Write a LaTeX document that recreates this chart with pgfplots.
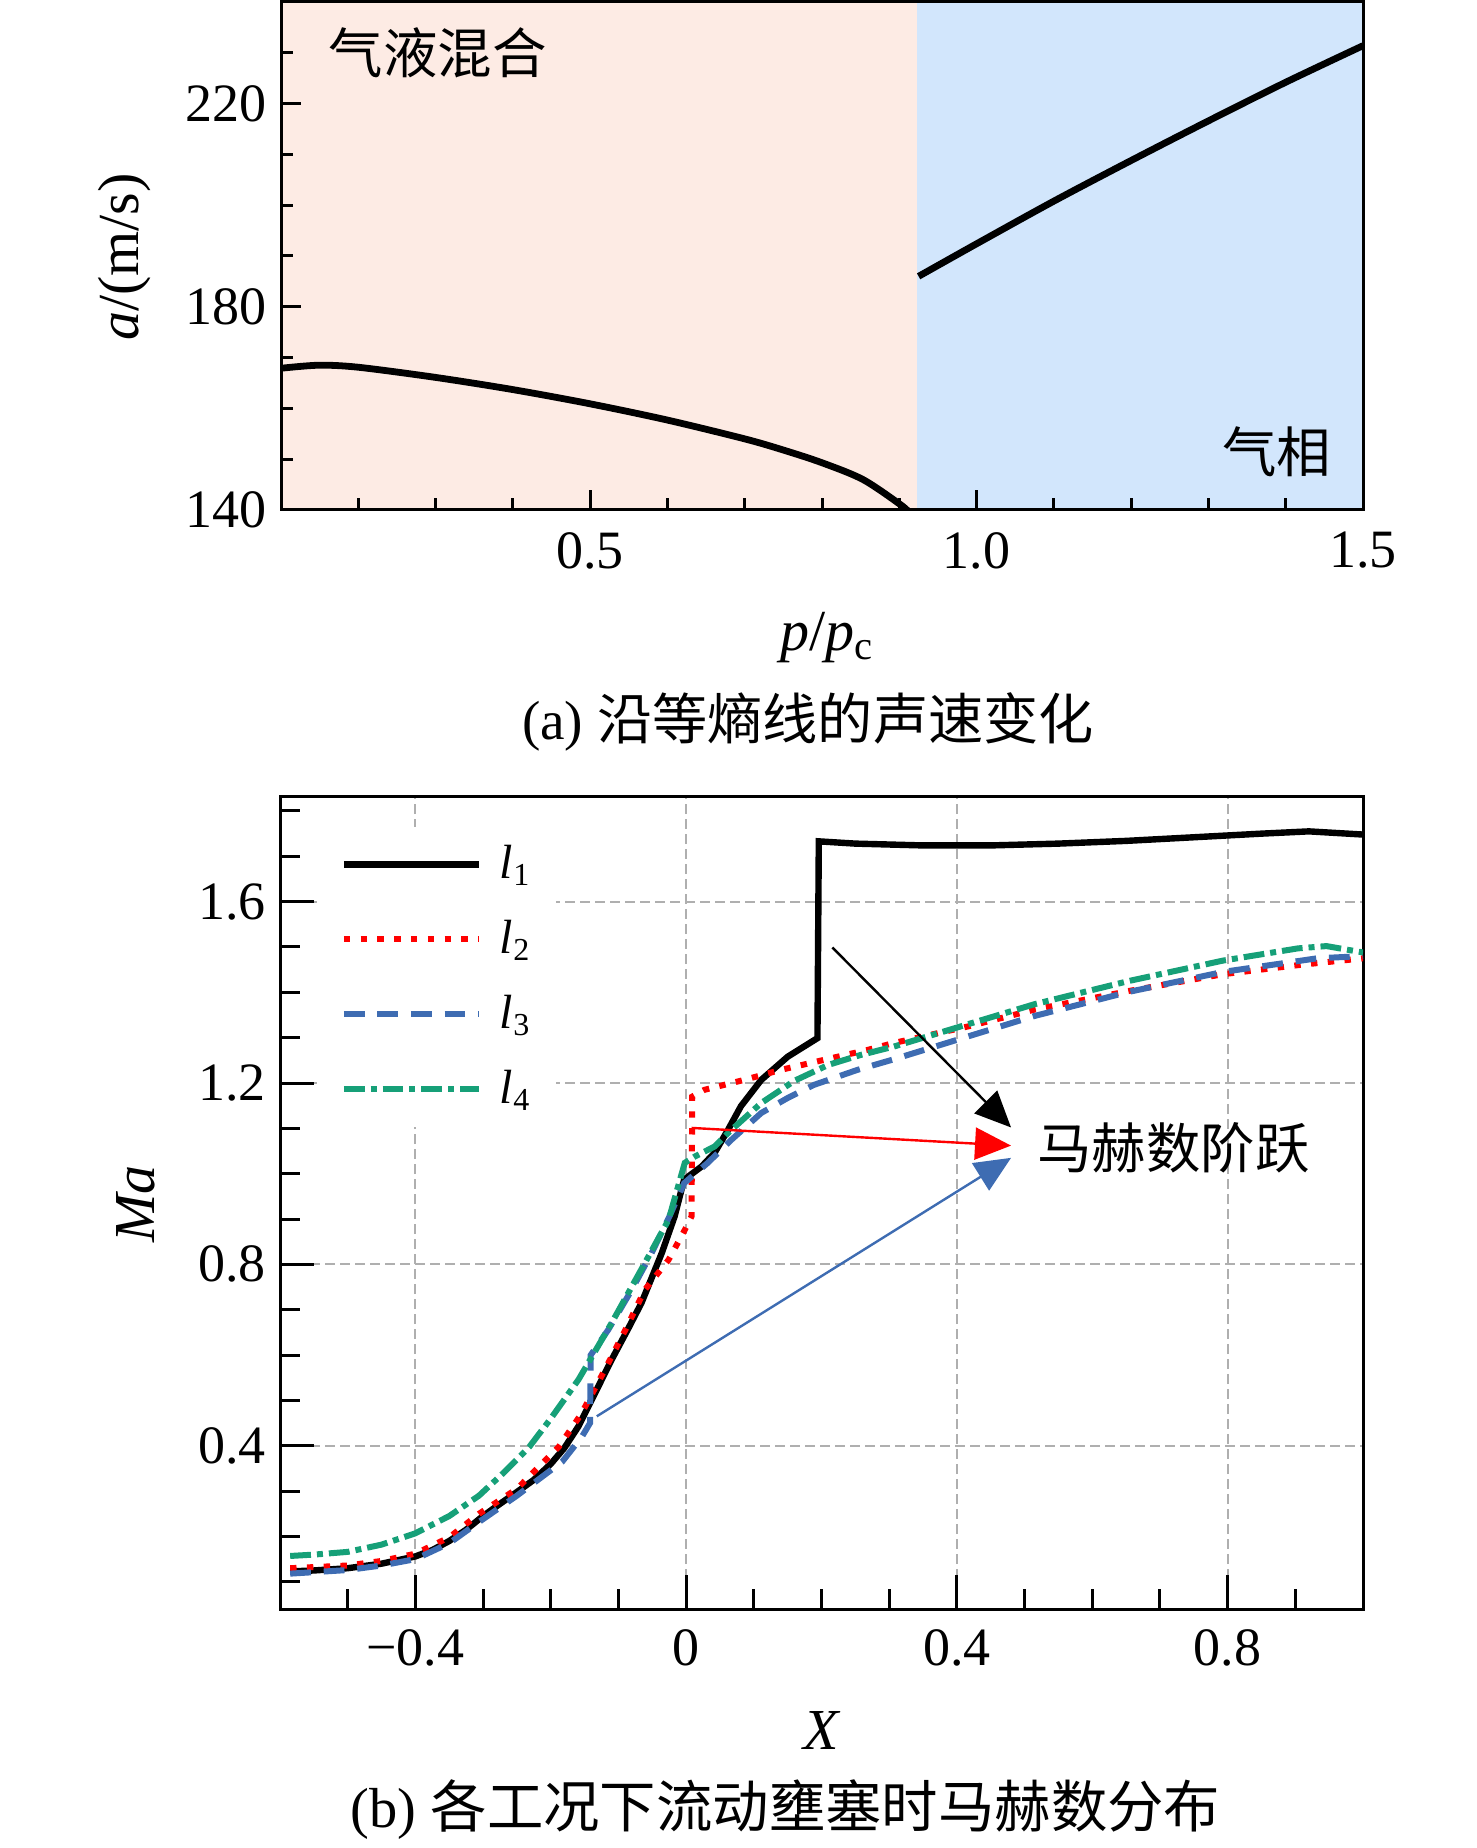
\documentclass[border=0pt]{standalone}
\usepackage{fontspec}
\setmainfont{Liberation Serif}
\newfontfamily\cjk{Noto Sans CJK SC}
\usepackage{pgfplots}
\pgfplotsset{compat=1.18}
\usetikzlibrary{arrows.meta}
\definecolor{pinkbg}{RGB}{253,235,228}
\definecolor{bluebg}{RGB}{210,230,252}
\definecolor{lred}{RGB}{255,0,0}
\definecolor{lblue}{RGB}{62,108,178}
\definecolor{lgreen}{RGB}{22,160,120}
\definecolor{gridgray}{RGB}{175,175,175}
\begin{document}
\begin{tikzpicture}
\path[use as bounding box] (0,0) rectangle (369pt,-462pt);
% ---------------- top axis ----------------
\begin{axis}[
  at={(70.25pt,-127.5pt)}, anchor=south west,
  scale only axis, width=270.5pt, height=127pt,
  xmin=0.1, xmax=1.5, ymin=140, ymax=240,
  xtick={0.5,1.0,1.5}, xticklabels={0.5,1.0,1.5},
  ytick={140,180,220}, yticklabels={140,180,220},
  minor xtick={0.1,0.2,0.3,0.4,0.6,0.7,0.8,0.9,1.1,1.2,1.3,1.4},
  minor ytick={150,160,170,190,200,210,230},
  tick pos=left, tick align=inside,
  major tick length=5pt, minor tick length=3pt,
  axis line style={line width=0.75pt},
  tick style={black, line width=0.75pt},
  axis on top,
  tick label style={font=\fontsize{13.5}{14}\selectfont},
  xticklabel style={yshift=-2pt},
  label style={font=\fontsize{14.5}{16}\selectfont},
  xlabel={\textit{p}/\textit{p}\textsubscript{c}},
  ylabel={\textit{a}/(m/s)},
  xlabel style={at={(axis description cs:0.505,-0.252)}, anchor=center},
  ylabel style={at={(axis description cs:-0.145,0.498)}, anchor=center},
]
\addplot[draw=none, fill=pinkbg] coordinates {(0.1,140) (0.1,240) (0.923,240) (0.923,140)} -- cycle;
\addplot[draw=none, fill=bluebg] coordinates {(0.923,140) (0.923,240) (1.5,240) (1.5,140)} -- cycle;
\addplot[black, line width=1.7pt, smooth] coordinates {
(0.1,167.9) (0.149,168.5) (0.2,168.1) (0.3,166.1) (0.4,163.7) (0.5,160.9)
(0.6,157.7) (0.7,154.0) (0.75,151.8) (0.8,149.3) (0.853,146.0) (0.902,141.0) (0.915,139.2)};
\addplot[black, line width=1.7pt, smooth] coordinates {
(0.925,186.0) (1.0,192.4) (1.1,200.8) (1.2,208.8) (1.3,216.6) (1.4,224.2) (1.5,231.4)};
\node[anchor=west, inner sep=0pt, font=\cjk\fontsize{13.6}{15}\selectfont] at (axis cs:0.161,230) {气液混合};
\node[anchor=east, inner sep=0pt, font=\cjk\fontsize{13.6}{15}\selectfont] at (axis cs:1.46,151.4) {气相};
\end{axis}
\node[font=\fontsize{13.8}{15}\selectfont] at (202pt,-180.5pt) {(a) {\cjk 沿等熵线的声速变化}};
% ---------------- bottom axis ----------------
\begin{axis}[
  at={(70pt,-402.25pt)}, anchor=south west,
  scale only axis, width=270.75pt, height=203.25pt,
  xmin=-0.6, xmax=1.0, ymin=0.04, ymax=1.833,
  xtick={-0.4,0,0.4,0.8}, xticklabels={−0.4,0,0.4,0.8},
  ytick={0.4,0.8,1.2,1.6}, yticklabels={0.4,0.8,1.2,1.6},
  minor xtick={-0.5,-0.3,-0.2,-0.1,0.1,0.2,0.3,0.5,0.6,0.7,0.9},
  minor ytick={0.1,0.2,0.3,0.5,0.6,0.7,0.9,1.0,1.1,1.3,1.4,1.5,1.7,1.8},
  tick pos=left, tick align=inside,
  major tick length=8.5pt, minor tick length=5pt,
  axis line style={line width=0.75pt},
  tick style={black, line width=0.75pt},
  grid=major,
  major grid style={gridgray, line width=0.5pt, dash pattern=on 2.5pt off 1.25pt},
  tick label style={font=\fontsize{13.5}{14}\selectfont},
  xticklabel style={yshift=-1.5pt},
  label style={font=\fontsize{14.5}{16}\selectfont},
  xlabel={\textit{X}},
  ylabel={\textit{Ma}},
  xlabel style={at={(axis description cs:0.501,-0.150)}, anchor=center},
  ylabel style={at={(axis description cs:-0.133,0.498)}, anchor=center},
  legend cell align=left,
  legend image code/.code={\draw[#1] (0pt,0pt) -- (33.75pt,0pt);},
  legend style={at={(axis description cs:0.033,0.963)}, anchor=north west,
    draw=none, fill=white, inner xsep=6pt, inner ysep=0pt, row sep=0pt,
    font=\fontsize{12}{14}\selectfont,
    nodes={inner sep=0pt, minimum height=18.75pt, text width=8pt, align=left},
    /tikz/every odd column/.append style={column sep=4.5pt}},
]
\addplot[black, line width=1.6pt] coordinates {
(-0.585,0.123) (-0.55,0.125) (-0.5,0.130) (-0.45,0.140) (-0.4,0.156) (-0.375,0.170)
(-0.35,0.190) (-0.325,0.215) (-0.3,0.245) (-0.275,0.272) (-0.25,0.298) (-0.225,0.325)
(-0.2,0.36) (-0.18,0.395) (-0.159,0.443) (-0.135,0.515) (-0.110,0.59) (-0.085,0.660)
(-0.066,0.715) (-0.036,0.825) (-0.017,0.906) (-0.003,0.987) (0.023,1.016) (0.042,1.046)
(0.062,1.097) (0.081,1.149) (0.111,1.207) (0.15,1.258) (0.194,1.299) (0.196,1.733)
(0.25,1.728) (0.35,1.724) (0.45,1.724) (0.55,1.728) (0.65,1.734) (0.75,1.742)
(0.85,1.75) (0.92,1.755) (1.0,1.748)};
\addlegendentry{\textit{l}\textsubscript{1}}
\addplot[lred, line width=1.5pt, dash pattern=on 1.6pt off 2.6pt] coordinates {
(-0.585,0.130) (-0.5,0.136) (-0.45,0.146) (-0.4,0.162) (-0.35,0.198) (-0.306,0.25)
(-0.25,0.305) (-0.188,0.398) (-0.155,0.47) (-0.12,0.568) (-0.09,0.655) (-0.061,0.744)
(-0.026,0.81) (-0.002,0.876) (0.008,0.906) (0.009,1.17)
(0.027,1.185) (0.086,1.207) (0.14,1.229) (0.209,1.253) (0.268,1.273) (0.306,1.288)
(0.417,1.325) (0.515,1.362) (0.654,1.403) (0.793,1.44) (0.904,1.46) (1.0,1.475)};
\addlegendentry{\textit{l}\textsubscript{2}}
\addplot[lblue, line width=1.5pt, dash pattern=on 5.2pt off 3.2pt] coordinates {
(-0.585,0.118) (-0.5,0.126) (-0.45,0.136) (-0.4,0.150) (-0.35,0.185) (-0.306,0.232)
(-0.25,0.29) (-0.183,0.365) (-0.154,0.42) (-0.142,0.45) (-0.141,0.60) (-0.115,0.656)
(-0.08,0.745) (-0.051,0.825) (-0.025,0.905) (-0.003,0.979)
(0.032,1.024) (0.067,1.075) (0.111,1.134) (0.15,1.167) (0.189,1.196) (0.253,1.229)
(0.306,1.252) (0.417,1.303) (0.515,1.348) (0.654,1.401) (0.793,1.445) (0.932,1.475) (1.0,1.48)};
\addlegendentry{\textit{l}\textsubscript{3}}
\addplot[lgreen, line width=1.5pt, dash pattern=on 5.2pt off 1.5pt on 1.5pt off 1.5pt] coordinates {
(-0.585,0.157) (-0.55,0.160) (-0.5,0.166) (-0.45,0.182) (-0.4,0.207) (-0.35,0.245)
(-0.306,0.29) (-0.27,0.34) (-0.232,0.397) (-0.2,0.46) (-0.159,0.546)
(-0.110,0.671) (-0.061,0.803) (-0.026,0.898) (-0.002,1.024) (0.013,1.038) (0.042,1.06)
(0.062,1.09) (0.111,1.156) (0.16,1.205) (0.21,1.24) (0.258,1.262) (0.306,1.28) (0.417,1.33)
(0.515,1.374) (0.654,1.425) (0.793,1.47) (0.904,1.497) (0.946,1.502) (1.0,1.488)};
\addlegendentry{\textit{l}\textsubscript{4}}
\draw[black, line width=0.6pt, -{Triangle[length=9pt,width=8pt]}] (axis cs:0.216,1.499) -- (axis cs:0.48,1.102);
\draw[lred, line width=0.6pt, -{Triangle[length=9pt,width=8pt]}] (axis cs:0.008,1.101) -- (axis cs:0.48,1.062);
\draw[lblue, line width=0.6pt, -{Triangle[length=9pt,width=8pt]}] (axis cs:-0.132,0.465) -- (axis cs:0.48,1.035);
\node[anchor=west, inner sep=0pt, font=\cjk\fontsize{13.6}{15}\selectfont] at (axis cs:0.518,1.057) {马赫数阶跃};
\end{axis}
\node[font=\fontsize{14.1}{16}\selectfont] at (196.4pt,-452.5pt) {(b) {\cjk 各工况下流动壅塞时马赫数分布}};
\end{tikzpicture}
\end{document}
